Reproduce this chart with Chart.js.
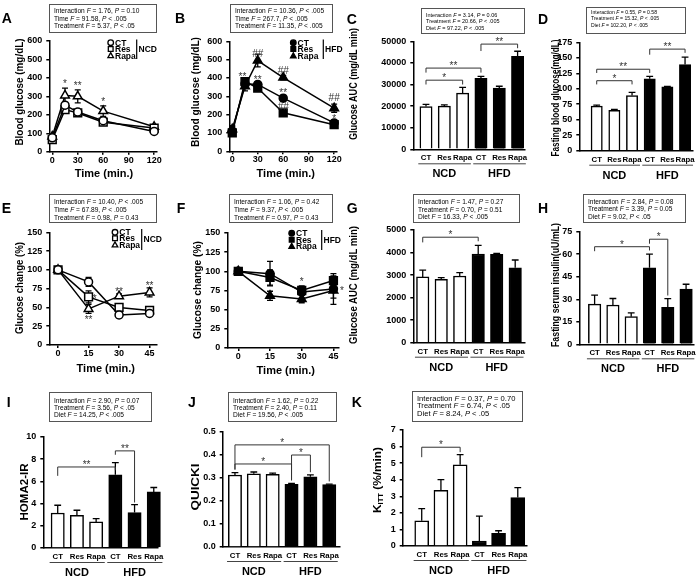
<!DOCTYPE html>
<html>
<head>
<meta charset="utf-8">
<title>Glucose and insulin panels</title>
<script src="https://cdn.jsdelivr.net/npm/chart.js@4.4.1/dist/chart.umd.min.js"></script>
<style>
  body { margin: 0; background: #fff; }
  #fig { position: relative; width: 700px; height: 581px; overflow: hidden; font-family: "Liberation Sans", Arial, sans-serif; color: #000; }
  #fig canvas { position: absolute; left: 0; top: 0; }
  .t { position: absolute; white-space: nowrap; line-height: 1; font-weight: bold; filter: grayscale(1); }
  .t sub { font-size: 65%; vertical-align: -2px; line-height: 0; }
  .stat { position: absolute; box-sizing: border-box; border: 1px solid #555; background: #fff; color: #000; padding-left: 4px; filter: grayscale(1); }
  .stat div { white-space: nowrap; }
</style>
</head>
<body>
<div id="fig"></div>
<script>
// ---- data ----
const groupNames = ['CT', 'Res', 'Rapa', 'CT', 'Res', 'Rapa'];
const dietNames = ['NCD', 'HFD'];
const treatNames = ['CT', 'Res', 'Rapa'];

// A / B : glucose tolerance (mg/dL)
const gttTime = [0, 15, 30, 60, 120];
const gttNcdCT = [75, 252, 215, 168, 110];
const gttNcdCTErr = [8, 15, 10, 12, 8];
const gttNcdRes = [65, 228, 210, 160, 128];
const gttNcdResErr = [6, 18, 12, 10, 8];
const gttNcdRapa = [82, 305, 300, 220, 135];
const gttNcdRapaErr = [10, 40, 35, 28, 10];
const gttHfdCT = [110, 368, 365, 290, 155];
const gttHfdCTErr = [25, 15, 15, 15, 10];
const gttHfdRes = [100, 380, 345, 210, 145];
const gttHfdResErr = [10, 12, 12, 10, 10];
const gttHfdRapa = [120, 355, 495, 402, 235];
const gttHfdRapaErr = [20, 25, 35, 12, 22];

// C / D
const gttAuc = [19800, 20000, 26000, 32800, 28300, 43000];
const gttAucErr = [1000, 600, 2700, 1000, 900, 2400];
const fastGlucose = [72, 65, 89, 116, 103, 139];
const fastGlucoseErr = [1.5, 1.5, 5, 4, 1, 12];

// E / F : insulin tolerance (% change)
const ittTime = [0, 15, 30, 45];
const ittNcdCT = [100, 84, 40, 42];
const ittNcdCTErr = [2, 6, 4, 2];
const ittNcdRes = [100, 64, 50, 46];
const ittNcdResErr = [2, 8, 3, 3];
const ittNcdRapa = [100, 48, 65, 70];
const ittNcdRapaErr = [2, 6, 3, 6];
const ittHfdCT = [100, 97, 73, 77];
const ittHfdCTErr = [2, 16, 8, 20];
const ittHfdRes = [100, 92, 75, 88];
const ittHfdResErr = [2, 10, 5, 6];
const ittHfdRapa = [100, 68, 64, 75];
const ittHfdRapaErr = [2, 6, 5, 10];

// G - K
const ittAuc = [2920, 2810, 2960, 3935, 3920, 3320];
const ittAucErr = [300, 80, 150, 380, 40, 350];
const fastInsulin = [26.8, 26.2, 18.4, 51, 24.6, 36.8];
const fastInsulinErr = [6, 4.3, 2.5, 9, 5.8, 3.2];
const homaIR = [3.15, 2.95, 2.35, 6.6, 3.2, 5.05];
const homaIRErr = [0.7, 0.45, 0.3, 1.1, 0.7, 0.4];
const quicki = [0.313, 0.318, 0.316, 0.272, 0.305, 0.271];
const quickiErr = [0.01, 0.008, 0.005, 0.005, 0.009, 0.002];
const kItt = [1.52, 3.36, 4.9, 0.3, 0.76, 2.92];
const kIttErr = [0.74, 0.64, 0.62, 1.5, 0.16, 0.6];

// tick labels
const gttTicksX = [0, 30, 60, 90, 120];
const gttTicksY = [0, 100, 200, 300, 400, 500, 600];
const ittTicksX = [0, 15, 30, 45];
const ittTicksY = [0, 25, 50, 75, 100, 125, 150];
const barTicksX = [0, 1, 2, 3, 4, 5];
const gttAucTicks = [0, 10000, 20000, 30000, 40000, 50000];
const fastGlucoseTicks = [0, 25, 50, 75, 100, 125, 150, 175];
const ittAucTicks = [0, 1000, 2000, 3000, 4000, 5000];
const insulinTicks = [0, 15, 30, 45, 60, 75];
const homaTicks = [0, 2, 4, 6, 8, 10];
const quickiTicks = [0, 0.1, 0.2, 0.3, 0.4, 0.5];
const kIttTicks = [0, 1, 2, 3, 4, 5, 6, 7];

// ---- setup ----
const FONT = '"Liberation Sans", Arial, sans-serif';
Chart.defaults.font.family = FONT;
Chart.defaults.color = '#000';
const fig = document.getElementById('fig');
const pointStyles = ['circle', 'rect', 'triangle'];
const pointRadii = [4, 5.5, 5];

const panels = [
  { id: 'A', type: 'line', x0: 49.3, x1: 156.7, y0: 41, y1: 151.7, xMin: -3.5, xMax: 123,
    xTicks: gttTicksX, yTicks: gttTicksY, times: gttTime, fill: '#fff',
    series: [[gttNcdCT, gttNcdCTErr], [gttNcdRes, gttNcdResErr], [gttNcdRapa, gttNcdRapaErr]],
    marks: [{ x: 15, y: 378, t: '*' }, { x: 30, y: 370, t: '**' }, { x: 60, y: 282, t: '*' }],
    legend: { x: 110.7, ys: [42.7, 49, 55.7], bx: 136.7, by0: 39.5, by1: 59, diet: 'NCD', dy: 49.3 },
    stats: { box: [49, 4, 108, 29], fs: 6.6, lh: 7.7, pt: 1.8,
      lines: ['Interaction F = 1.76, P = 0.10', 'Time F = 91.58, P < .005', 'Treatment F = 5.37, P < .05'] },
    letter: [1.7, 18.3], ytitle: ['Blood glucose (mg/dL)', 18.5, 91.7, 107], xtitle: [104, 173] },
  { id: 'B', type: 'line', x0: 229.3, x1: 336.7, y0: 41.3, y1: 151.3, xMin: -3.5, xMax: 123,
    xTicks: gttTicksX, yTicks: gttTicksY, times: gttTime, fill: '#000',
    series: [[gttHfdCT, gttHfdCTErr], [gttHfdRes, gttHfdResErr], [gttHfdRapa, gttHfdRapaErr]],
    marks: [{ x: 12, y: 420, t: '**' }, { x: 30, y: 535, t: '##' }, { x: 30, y: 403, t: '**' },
      { x: 60, y: 443, t: '##' }, { x: 60, y: 330, t: '**' }, { x: 60, y: 246, t: '##' },
      { x: 120, y: 292, t: '##' }, { x: 120, y: 188, t: '*' }],
    legend: { x: 293.3, ys: [42.7, 49, 56], bx: 323.3, by0: 39.5, by1: 59, diet: 'HFD', dy: 49.3 },
    stats: { box: [230, 4, 103, 29], fs: 6.6, lh: 7.7, pt: 1.8,
      lines: ['Interaction F = 10.36, P < .005', 'Time F = 267.7, P < .005', 'Treatment F = 11.35, P < .005'] },
    letter: [175, 18.3], ytitle: ['Blood glucose (mg/dL)', 195, 91.7, 110], xtitle: [285.8, 173] },
  { id: 'C', type: 'bar', x0: 413.3, x1: 525, y0: 41.3, y1: 149.3, xMin: -0.693, xMax: 5.404, barW: 12.3,
    yTicks: gttAucTicks, values: gttAuc, errors: gttAucErr,
    brackets: [{ a: 0, b: 2, y: 32000, ya: 30000, yb: 30000, t: '*' },
      { a: 0, b: 3, y: 37600, ya: 35500, yb: 35500, t: '**' },
      { a: 3, b: 5, y: 48700, ya: 45500, yb: 46800, t: '**' }],
    stats: { box: [421, 8, 104, 25.5], fs: 5.5, lh: 6.7, pt: 2.6,
      lines: ['Interaction F = 3.14, P = 0.06', 'Treatment F = 20.66, P < .005', 'Diet F = 97.22, P < .005'] },
    letter: [346.7, 19], ytitle: ['Glucose AUC (mg/dL min)', 353, 84.2, 112] },
  { id: 'D', type: 'bar', x0: 579.3, x1: 693, y0: 42.3, y1: 150.7, xMin: -0.985, xMax: 5.45, barW: 11.3,
    yTicks: fastGlucoseTicks, values: fastGlucose, errors: fastGlucoseErr,
    brackets: [{ a: 0, b: 2, y: 113, ya: 107, yb: 107, t: '*' },
      { a: 0, b: 3, y: 131.5, ya: 125.5, yb: 125.5, t: '**' },
      { a: 3, b: 5, y: 164, ya: 155, yb: 158, t: '**' }],
    stats: { box: [586, 7, 100, 26.5], fs: 5.1, lh: 6.7, pt: 0.5,
      lines: ['Interaction F = 0.55, P = 0.58', 'Treatment F = 15.32, P < .005', 'Diet F = 102.20, P < .005'] },
    letter: [538, 19], ytitle: ['Fasting blood glucose(mg/dL)', 555, 98, 117] },
  { id: 'E', type: 'line', x0: 49.3, x1: 156.7, y0: 232.3, y1: 345, xMin: -4.3, xMax: 48.5,
    xTicks: ittTicksX, yTicks: ittTicksY, times: ittTime, fill: '#fff',
    series: [[ittNcdCT, ittNcdCTErr], [ittNcdRes, ittNcdResErr], [ittNcdRapa, ittNcdRapaErr]],
    marks: [{ x: 18, y: 64, t: '*' }, { x: 15, y: 36, t: '**' }, { x: 30, y: 74, t: '**' }, { x: 45, y: 82, t: '**' }],
    legend: { x: 115, ys: [232.3, 238.3, 245], bx: 141.7, by0: 229, by1: 250, diet: 'NCD', dy: 239 },
    stats: { box: [49, 194, 108, 29], fs: 6.6, lh: 7.9, pt: 2.8,
      lines: ['Interaction F = 10.40, P < .005', 'Time F = 67.89, P < .005', 'Treatment F = 0.98, P = 0.43'] },
    letter: [1.7, 208], ytitle: ['Glucose change (%)', 19, 288.3, 92], xtitle: [105.8, 368.3] },
  { id: 'F', type: 'line', x0: 227.3, x1: 338.3, y0: 233, y1: 348, xMin: -5.2, xMax: 47.3,
    xTicks: ittTicksX, yTicks: ittTicksY, times: ittTime, fill: '#000',
    series: [[ittHfdCT, ittHfdCTErr], [ittHfdRes, ittHfdResErr], [ittHfdRapa, ittHfdRapaErr]],
    marks: [{ x: 30, y: 90, t: '*' }, { x: 49, y: 78, t: '*' }],
    legend: { x: 291.7, ys: [233.3, 239.7, 246.3], bx: 321.7, by0: 230, by1: 250, diet: 'HFD', dy: 240 },
    stats: { box: [229, 194, 104, 29], fs: 6.6, lh: 7.9, pt: 2.8,
      lines: ['Interaction F = 1.06, P = 0.42', 'Time F = 9.37, P < .005', 'Treatment F = 0.97, P = 0.43'] },
    letter: [176.7, 208], ytitle: ['Glucose change (%)', 196.7, 290, 98], xtitle: [285.8, 370] },
  { id: 'G', type: 'bar', x0: 413.3, x1: 525, y0: 230, y1: 342.7, xMin: -0.51, xMax: 5.53, barW: 12.5,
    yTicks: ittAucTicks, values: ittAuc, errors: ittAucErr,
    brackets: [{ a: 0, b: 3, y: 4680, ya: 4450, yb: 4500, t: '*' }],
    stats: { box: [413, 194, 107, 29], fs: 6.6, lh: 7.6, pt: 3,
      lines: ['Interaction F = 1.47, P = 0.27', 'Treatment F = 0.70, P = 0.51', 'Diet F = 16.33, P < .005'] },
    letter: [346.7, 208], ytitle: ['Glucose AUC (mg/dL min)', 353.3, 285, 118] },
  { id: 'H', type: 'bar', x0: 579.3, x1: 694, y0: 231.7, y1: 344.3, xMin: -0.837, xMax: 5.4, barW: 12.5,
    yTicks: insulinTicks, values: fastInsulin, errors: fastInsulinErr,
    brackets: [{ a: 0, b: 3, y: 65, ya: 62, yb: 62.5, t: '*' },
      { a: 3, b: 4, y: 70, ya: 67, yb: 32.5, t: '*' }],
    stats: { box: [583, 193.5, 103, 29.5], fs: 6.6, lh: 7.6, pt: 3,
      lines: ['Interaction F = 2.84, P = 0.08', 'Treatment F = 3.39, P = 0.05', 'Diet F = 9.02, P < .05'] },
    letter: [538, 208], ytitle: ['Fasting serum insulin(uU/mL)', 555, 285, 124] },
  { id: 'I', type: 'bar', x0: 43.3, x1: 158, y0: 437, y1: 548, xMin: -0.75, xMax: 5.22, barW: 13.3,
    yTicks: homaTicks, values: homaIR, errors: homaIRErr,
    brackets: [{ a: 0, b: 3, y: 7.3, ya: 6.5, yb: 7.0, t: '**' },
      { a: 3, b: 4, y: 8.75, ya: 8.4, yb: 4.1, t: '**' }],
    stats: { box: [49, 392, 103, 30], fs: 6.6, lh: 7.3, pt: 3.5,
      lines: ['Interaction F = 2.90, P = 0.07', 'Treatment F = 3.56, P < .05', 'Diet F = 14.25, P < .005'] },
    letter: [6.7, 401.5], ytitle: ['HOMA2-IR', 24, 491.7, 57] },
  { id: 'J', type: 'bar', x0: 222.7, x1: 340, y0: 432, y1: 547, xMin: -0.65, xMax: 5.57, barW: 13.3,
    yTicks: quickiTicks, yFmt: v => v.toFixed(1), values: quicki, errors: quickiErr,
    brackets: [{ a: 0, b: 5, y: 0.444, ya: 0.335, yb: 0.285, t: '*' },
      { a: 0, b: 3, y: 0.361, ya: 0.339, yb: 0.292, t: '*' },
      { a: 3, b: 4, y: 0.4, ya: 0.289, yb: 0.325, t: '*' }],
    stats: { box: [228, 392, 109, 30], fs: 6.6, lh: 7.3, pt: 3.5,
      lines: ['Interaction F = 1.62, P = 0.22', 'Treatment F = 2.40, P = 0.11', 'Diet F = 19.56, P < .005'] },
    letter: [188, 401.5], ytitle: ['QUICKI', 195, 486.7, 47] },
  { id: 'K', type: 'bar', x0: 402.7, x1: 527, y0: 430, y1: 546, xMin: -0.99, xMax: 5.48, barW: 14,
    yTicks: kIttTicks, values: kItt, errors: kIttErr,
    brackets: [{ a: 0, b: 2, y: 5.96, ya: 5.36, yb: 5.66, t: '*' }],
    stats: { box: [412, 391, 111, 31], fs: 7.6, lh: 7.5, pt: 2.5,
      lines: ['Interaction F = 0.37, P = 0.70', 'Treatment F = 6.74, P < .05', 'Diet F = 8.24, P < .05'] },
    letter: [351.7, 402], ytitle: ['K<sub>ITT</sub> (%/min)', 376.7, 480, 66] }
];

// ---- drawing helpers ----
function drawMark(ctx, t, x, y, size) {
  ctx.font = size + 'px ' + FONT;
  ctx.textAlign = 'center';
  ctx.textBaseline = 'alphabetic';
  const lift = t[0] === '*' ? 0.55 : 0.36;
  ctx.fillText(t, x, y + lift * size);
}

function drawErrors(chart, p) {
  const ctx = chart.ctx, xs = chart.scales.x, ys = chart.scales.y;
  const bars = p.type === 'bar';
  const sets = bars ? [[p.values, p.errors]] : p.series;
  const xv = bars ? barTicksX : p.times;
  ctx.save();
  ctx.strokeStyle = '#000';
  ctx.lineWidth = 1.3;
  sets.forEach(([vals, errs]) => {
    vals.forEach((v, j) => {
      const x = xs.getPixelForValue(xv[j]);
      const top = ys.getPixelForValue(v + errs[j]);
      const bot = ys.getPixelForValue(bars ? v : v - errs[j]);
      const cap = bars ? 3.4 : 3;
      ctx.beginPath();
      ctx.moveTo(x, bot); ctx.lineTo(x, top);
      ctx.moveTo(x - cap, top); ctx.lineTo(x + cap, top);
      if (!bars) { ctx.moveTo(x - cap, bot); ctx.lineTo(x + cap, bot); }
      ctx.stroke();
    });
  });
  ctx.restore();
}

function drawMarker(ctx, style, x, y, r, fill) {
  ctx.beginPath();
  if (style === 'circle') ctx.arc(x, y, r, 0, Math.PI * 2);
  else if (style === 'rect') ctx.rect(x - r * 0.85, y - r * 0.85, r * 1.7, r * 1.7);
  else { ctx.moveTo(x, y - r * 1.1); ctx.lineTo(x + r, y + r * 0.7); ctx.lineTo(x - r, y + r * 0.7); ctx.closePath(); }
  ctx.fillStyle = fill;
  ctx.fill();
  ctx.stroke();
}

function drawExtras(chart, p) {
  const ctx = chart.ctx, xs = chart.scales.x, ys = chart.scales.y, area = chart.chartArea;
  ctx.save();
  ctx.fillStyle = '#333';
  ctx.strokeStyle = '#333';
  ctx.lineWidth = 1;
  // significance brackets
  (p.brackets || []).forEach(b => {
    const xa = xs.getPixelForValue(b.a), xb = xs.getPixelForValue(b.b), y = ys.getPixelForValue(b.y);
    ctx.beginPath();
    ctx.moveTo(xa, ys.getPixelForValue(b.ya));
    ctx.lineTo(xa, y);
    ctx.lineTo(xb, y);
    ctx.lineTo(xb, ys.getPixelForValue(b.yb));
    ctx.stroke();
    drawMark(ctx, b.t, (xa + xb) / 2, y - 4.5, 10);
  });
  // stars next to time points
  (p.marks || []).forEach(m => drawMark(ctx, m.t, xs.getPixelForValue(m.x), ys.getPixelForValue(m.y), 10));
  // diet groups under the bars
  if (p.type === 'bar') {
    const sp = xs.getPixelForValue(1) - xs.getPixelForValue(0);
    ctx.strokeStyle = '#444';
    ctx.fillStyle = '#000';
    ctx.font = 'bold 11px ' + FONT;
    ctx.textAlign = 'center';
    ctx.textBaseline = 'middle';
    dietNames.forEach((name, g) => {
      const xa = xs.getPixelForValue(g * 3), xb = xs.getPixelForValue(g * 3 + 2);
      ctx.beginPath();
      ctx.moveTo(xa - 0.42 * sp, area.bottom + 14.5);
      ctx.lineTo(xb + 0.45 * sp, area.bottom + 14.5);
      ctx.stroke();
      ctx.fillText(name, (xa + xb) / 2, area.bottom + 25);
    });
  }
  // legend markers and bracket line
  if (p.legend) {
    const L = p.legend;
    ctx.strokeStyle = '#000';
    ctx.lineWidth = 1.3;
    pointStyles.forEach((s, i) => drawMarker(ctx, s, L.x, L.ys[i], 2.8, p.fill));
    ctx.lineWidth = 1.2;
    ctx.beginPath();
    ctx.moveTo(L.bx, L.by0);
    ctx.lineTo(L.bx, L.by1);
    ctx.stroke();
  }
  ctx.restore();
}

function makeChart(p) {
  const canvas = document.createElement('canvas');
  canvas.width = 700;
  canvas.height = 581;
  fig.appendChild(canvas);
  const isBar = p.type === 'bar';
  const tickFont = { family: FONT, size: 9, weight: 'bold' };
  const catFont = { family: FONT, size: 7.8, weight: 'bold' };
  const xTicks = isBar ? barTicksX : p.xTicks;
  let datasets;
  if (isBar) {
    datasets = [{
      data: p.values.map((v, i) => ({ x: i, y: v })),
      backgroundColor: p.values.map((_, i) => i < 3 ? '#fff' : '#000'),
      borderColor: '#000', borderWidth: 1.5, barThickness: p.barW, clip: false
    }];
  } else {
    datasets = p.series.map((s, i) => ({
      label: treatNames[i],
      data: p.times.map((t, j) => ({ x: t, y: s[0][j] })),
      borderColor: '#000', borderWidth: 1.5, tension: 0, clip: false, fill: false,
      pointStyle: pointStyles[i], pointRadius: pointRadii[i], pointBorderWidth: 1.5,
      pointBackgroundColor: p.fill, pointBorderColor: '#000'
    }));
  }
  new Chart(canvas, {
    type: p.type,
    data: { datasets },
    options: {
      responsive: false, animation: false, events: [],
      layout: { padding: { left: p.x0 - 36, right: 700 - p.x1, top: p.y0, bottom: 581 - p.y1 - 16 } },
      plugins: { legend: { display: false }, tooltip: { enabled: false } },
      scales: {
        x: {
          type: 'linear', min: p.xMin, max: p.xMax, bounds: 'data', offset: false,
          afterBuildTicks: s => { s.ticks = xTicks.map(v => ({ value: v })); },
          afterFit: s => { s.height = 16; },
          ticks: { font: isBar ? catFont : tickFont, color: '#000', padding: isBar ? 4 : 0,
            maxRotation: 0, minRotation: 0, autoSkip: false,
            callback: isBar ? (v => groupNames[v]) : (v => String(v)) },
          grid: { offset: false, drawOnChartArea: false, drawTicks: !isBar, tickLength: 3, color: '#000', lineWidth: 1.5 },
          border: { color: '#000', width: 1.5 }
        },
        y: {
          type: 'linear', min: p.yTicks[0], max: p.yTicks[p.yTicks.length - 1], bounds: 'data',
          afterBuildTicks: s => { s.ticks = p.yTicks.map(v => ({ value: v })); },
          afterFit: s => { s.width = 36; },
          ticks: { font: tickFont, color: '#000', padding: 4, callback: p.yFmt || (v => String(v)) },
          grid: { drawOnChartArea: false, tickLength: 3, color: '#000', lineWidth: 1.5 },
          border: { color: '#000', width: 1.5 }
        }
      }
    },
    plugins: [{
      id: 'extras' + p.id,
      beforeDatasetsDraw: chart => { if (!isBar) drawErrors(chart, p); },
      afterDatasetsDraw: chart => { if (isBar) drawErrors(chart, p); drawExtras(chart, p); }
    }]
  });
}

// ---- html text ----
function text(html, x, y, size, opts) {
  opts = opts || {};
  const d = document.createElement('div');
  d.className = 't';
  d.innerHTML = html;
  d.style.fontSize = size + 'px';
  d.style.left = x + 'px';
  d.style.top = y + 'px';
  fig.appendChild(d);
  if (opts.center) {
    let tf = 'translate(-50%,-50%)';
    if (opts.rot) tf += ' rotate(-90deg)';
    if (opts.len) tf += ' scaleX(' + (opts.len / d.getBoundingClientRect().width).toFixed(3) + ')';
    d.style.transform = tf;
  } else {
    d.style.transform = 'translateY(-50%)';
  }
  return d;
}

function statBox(s) {
  const [l, t, w, h] = s.box;
  const d = document.createElement('div');
  d.className = 'stat';
  Object.assign(d.style, { left: l + 'px', top: t + 'px', width: w + 'px', height: h + 'px',
    fontSize: s.fs + 'px', paddingTop: s.pt + 'px' });
  d.innerHTML = s.lines.map(line => '<div style="line-height:' + s.lh + 'px">' +
    line.replace(/\b([FP])\b/g, '<i>$1</i>') + '</div>').join('');
  fig.appendChild(d);
}

panels.forEach(makeChart);

panels.forEach(p => {
  statBox(p.stats);
  text(p.id, p.letter[0], p.letter[1], 14);
  text(p.ytitle[0], p.ytitle[1], p.ytitle[2], 10.5, { center: true, rot: true, len: p.ytitle[3] });
  if (p.xtitle) text('Time (min.)', p.xtitle[0], p.xtitle[1], 11, { center: true });
  if (p.legend) {
    const L = p.legend;
    treatNames.forEach((n, i) => text(n, L.x + 4.3, L.ys[i], 8.5));
    text(L.diet, L.bx + 1.8, L.dy, 8.5);
  }
});
</script>
</body>
</html>
